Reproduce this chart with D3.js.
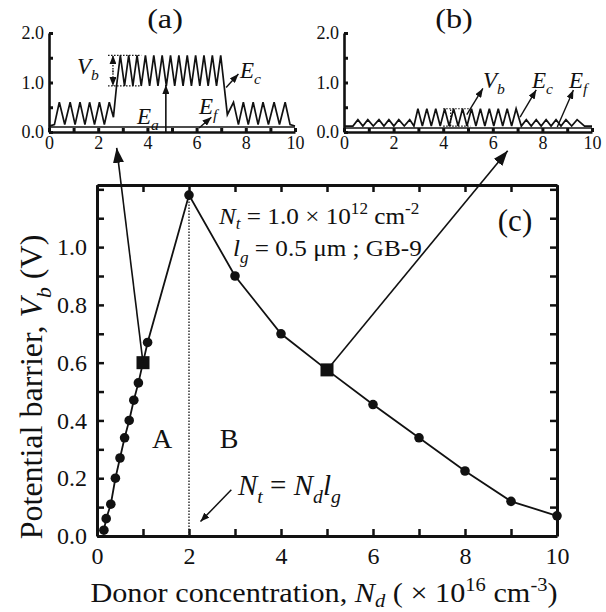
<!DOCTYPE html>
<html>
<head>
<meta charset="utf-8">
<script src="https://cdn.jsdelivr.net/npm/d3@7/dist/d3.min.js"></script>
<style>
  body { margin: 0; background: #fff; }
  svg text { font-family: "Liberation Serif", "Times New Roman", Times, serif; fill: #111; }
</style>
</head>
<body>
<svg id="chart" width="606" height="612"></svg>
<script>
// main panel (c): potential barrier vs donor concentration
var ndValues = [0.15, 0.2, 0.3, 0.4, 0.5, 0.6, 0.7, 0.8, 0.9, 1.0, 1.1, 2.0, 3.0, 4.0, 5.0, 6.0, 7.0, 8.0, 9.0, 10.0];
var vbValues = [0.02, 0.06, 0.11, 0.2, 0.27, 0.34, 0.4, 0.47, 0.53, 0.6, 0.67, 1.18, 0.9, 0.7, 0.575, 0.455, 0.34, 0.225, 0.12, 0.07];
var squareNd = [1.0, 5.0];
var squareVb = [0.6, 0.575];
var xTickValues = [0, 1, 2, 3, 4, 5, 6, 7, 8, 9, 10];
var yTickValues = [0, 0.1, 0.2, 0.3, 0.4, 0.5, 0.6, 0.7, 0.8, 0.9, 1.0, 1.1, 1.2];

// inset (a): band diagram, Nd = 1e16
var waveAX = [0, 0.22, 0.42, 0.64, 0.86, 1.06, 1.26, 1.46, 1.65, 1.85, 2.05, 2.25, 2.45, 2.62, 2.75,
  2.9, 3.07, 3.24, 3.41, 3.58, 3.75, 3.92, 4.09, 4.26, 4.43, 4.6, 4.77, 4.94, 5.11, 5.28, 5.45,
  5.62, 5.79, 5.96, 6.13, 6.3, 6.47, 6.64, 6.81, 6.98, 7.12, 7.25, 7.5, 7.7, 7.9, 8.1, 8.3, 8.5,
  8.7, 8.92, 9.15, 9.37, 9.6, 9.8, 10];
var waveAY = [0.12, 0.15, 0.6, 0.15, 0.6, 0.15, 0.6, 0.15, 0.6, 0.15, 0.6, 0.15, 0.6, 0.3, 0.95,
  1.55, 0.93, 1.55, 0.93, 1.55, 0.93, 1.55, 0.93, 1.55, 0.93, 1.55, 0.93, 1.55, 0.93, 1.55, 0.93,
  1.55, 0.93, 1.55, 0.93, 1.55, 0.93, 1.55, 0.93, 1.55, 0.93, 0.35, 0.6, 0.15, 0.6, 0.15, 0.6, 0.15,
  0.6, 0.15, 0.6, 0.15, 0.6, 0.15, 0.12];
var fermiA = 0.1;

// inset (b): band diagram, Nd = 5e16
var waveBX = [0, 0.36, 0.56, 0.76, 0.96, 1.18, 1.41, 1.61, 1.81, 2.01, 2.21, 2.43, 2.65, 2.82,
  2.98, 3.16, 3.34, 3.52, 3.7, 3.88, 4.06, 4.24, 4.42, 4.6, 4.78, 4.96, 5.14, 5.32, 5.5, 5.68,
  5.86, 6.04, 6.22, 6.4, 6.58, 6.76, 6.94, 7.15, 7.35, 7.55, 7.75, 7.95, 8.15, 8.35, 8.55, 8.75,
  8.95, 9.18, 9.4, 9.7, 10];
var waveBY = [0.12, 0.12, 0.25, 0.12, 0.25, 0.12, 0.25, 0.12, 0.25, 0.12, 0.25, 0.12, 0.25, 0.12,
  0.47, 0.12, 0.47, 0.12, 0.47, 0.12, 0.47, 0.12, 0.47, 0.12, 0.47, 0.12, 0.47, 0.12, 0.47, 0.12,
  0.47, 0.12, 0.47, 0.12, 0.47, 0.12, 0.47, 0.12, 0.25, 0.12, 0.25, 0.12, 0.25, 0.12, 0.25, 0.12,
  0.25, 0.12, 0.25, 0.12, 0.12];
var fermiB = 0.08;
var insetXTicks = [0, 1, 2, 3, 4, 5, 6, 7, 8, 9, 10];
var insetYTicks = [0, 0.5, 1.0, 1.5, 2.0];

var SERIF = "'Liberation Serif', 'Times New Roman', Times, serif";
var svg = d3.select("#chart").attr("font-family", SERIF);

var x = d3.scaleLinear().domain([0, 10]).range([97, 557]);
var y = d3.scaleLinear().domain([0, 1.215]).range([536, 185]);
var xa = d3.scaleLinear().domain([0, 10]).range([49, 295]);
var xb = d3.scaleLinear().domain([0, 10]).range([344, 592]);
var yi = d3.scaleLinear().domain([0, 2]).range([132, 33]);

var defs = svg.append("defs");
function addMarker(id, len, wid) {
  defs.append("marker")
    .attr("id", id)
    .attr("markerUnits", "userSpaceOnUse")
    .attr("viewBox", "0 0 " + len + " " + wid)
    .attr("refX", len).attr("refY", wid / 2)
    .attr("markerWidth", len).attr("markerHeight", wid)
    .attr("orient", "auto-start-reverse")
    .append("path")
    .attr("d", "M0,0 L" + len + "," + (wid / 2) + " L0," + wid + " Z")
    .attr("fill", "#111");
}
addMarker("bigHead", 15, 11);
addMarker("smallHead", 9, 7);

// rich text with italic / sub / sup pieces
function rich(sel, parts, fs, subShift) {
  var shift = 0;
  var sub = subShift || 0.28;
  sel.attr("font-family", SERIF);
  parts.forEach(function (p) {
    var ts = sel.append("tspan").text(p[0]);
    var k = p[1] || "";
    var target = 0;
    if (k.indexOf("sub") >= 0) { target = sub * fs; ts.attr("font-size", fs * 0.68); }
    if (k.indexOf("sup") >= 0) { target = -0.42 * fs; ts.attr("font-size", fs * 0.68); }
    if (k.charAt(0) === "i") ts.attr("font-style", "italic");
    ts.attr("dy", target - shift);
    shift = target;
  });
}

function styleAxis(g, fs) {
  g.attr("font-family", SERIF);
  g.select(".domain").attr("stroke", "#111").attr("stroke-width", 3);
  g.selectAll(".tick line").attr("stroke", "#111").attr("stroke-width", 2.5);
  g.selectAll(".tick text").attr("font-family", SERIF).attr("font-size", fs).attr("fill", "#222");
}

// ---------- main panel ----------
var gMain = svg.append("g");

gMain.append("g")
  .attr("transform", "translate(0," + y(0) + ")")
  .call(d3.axisBottom(x).tickValues(xTickValues).tickSizeInner(-7).tickSizeOuter(0).tickPadding(11)
    .tickFormat(function (d) { return d % 2 === 0 ? d : ""; }))
  .call(styleAxis, 24);
gMain.append("g")
  .attr("transform", "translate(0," + y(1.215) + ")")
  .call(d3.axisTop(x).tickValues(xTickValues).tickSizeInner(-7).tickSizeOuter(0).tickFormat(""))
  .call(styleAxis, 24);
gMain.append("g")
  .attr("transform", "translate(" + x(0) + ",0)")
  .call(d3.axisLeft(y).tickValues(yTickValues.filter(function (d) { return d < 1.21; }))
    .tickSizeInner(-7).tickSizeOuter(0).tickPadding(10)
    .tickFormat(function (d) { return Math.round(d * 10) % 2 === 0 && d < 1.1 ? d3.format(".1f")(d) : ""; }))
  .call(styleAxis, 24);
gMain.append("g")
  .attr("transform", "translate(" + x(10) + ",0)")
  .call(d3.axisRight(y).tickValues(yTickValues.filter(function (d) { return d < 1.21; }))
    .tickSizeInner(-7).tickSizeOuter(0).tickFormat(""))
  .call(styleAxis, 24);

// dotted boundary at Nt = Nd lg
gMain.append("line")
  .attr("x1", x(2)).attr("x2", x(2)).attr("y1", y(0)).attr("y2", y(1.18))
  .attr("stroke", "#222").attr("stroke-width", 1.4).attr("stroke-dasharray", "1.5,1.5");

var pts = ndValues.map(function (d, i) { return [d, vbValues[i]]; });
gMain.append("path")
  .datum(pts)
  .attr("d", d3.line().x(function (d) { return x(d[0]); }).y(function (d) { return y(d[1]); }))
  .attr("fill", "none").attr("stroke", "#111").attr("stroke-width", 1.8);

gMain.selectAll("circle.pt")
  .data(pts.filter(function (d) { return squareNd.indexOf(d[0]) < 0; }))
  .enter().append("circle")
  .attr("class", "pt")
  .attr("cx", function (d) { return x(d[0]); })
  .attr("cy", function (d) { return y(d[1]); })
  .attr("r", 4.8)
  .attr("fill", "#111");

gMain.selectAll("rect.sq")
  .data(squareNd)
  .enter().append("rect")
  .attr("class", "sq")
  .attr("x", function (d) { return x(d) - 6.5; })
  .attr("y", function (d, i) { return y(squareVb[i]) - 6.5; })
  .attr("width", 13).attr("height", 13)
  .attr("fill", "#111");

// arrows from squares up to the insets
svg.append("line")
  .attr("x1", x(squareNd[0])).attr("y1", y(squareVb[0]))
  .attr("x2", xa(2.75)).attr("y2", yi(-0.32))
  .attr("stroke", "#111").attr("stroke-width", 1.6).attr("marker-end", "url(#bigHead)");
svg.append("line")
  .attr("x1", x(squareNd[1])).attr("y1", y(squareVb[1]))
  .attr("x2", xb(6.6)).attr("y2", yi(-0.38))
  .attr("stroke", "#111").attr("stroke-width", 1.6).attr("marker-end", "url(#bigHead)");

// annotation arrow Nt = Nd lg
svg.append("line")
  .attr("x1", x(2.92)).attr("y1", y(0.16))
  .attr("x2", x(2.25)).attr("y2", y(0.05))
  .attr("stroke", "#111").attr("stroke-width", 1.5).attr("marker-end", "url(#smallHead)");

var t1 = svg.append("text").attr("transform", "translate(219,224) scale(1.05,1)").attr("font-size", 24);
rich(t1, [["N", "i"], ["t", "isub"], [" = 1.0 \u00d7 10"], ["12", "sup"], [" cm"], ["-2", "sup"]], 24, 0.22);
var t2 = svg.append("text").attr("transform", "translate(233,256) scale(1.05,1)").attr("font-size", 24);
rich(t2, [["l", "i"], ["g", "isub"], [" = 0.5 \u03bcm ; GB-9"]], 24);
svg.append("text").attr("x", 515).attr("y", 231).attr("text-anchor", "middle").attr("font-size", 31).text("(c)");
svg.append("text").attr("x", 162).attr("y", 448).attr("text-anchor", "middle").attr("font-size", 28).text("A");
svg.append("text").attr("x", 229).attr("y", 448).attr("text-anchor", "middle").attr("font-size", 28).text("B");
var t3 = svg.append("text").attr("x", 238).attr("y", 495).attr("font-size", 29);
rich(t3, [["N", "i"], ["t", "isub"], [" = "], ["N", "i"], ["d", "isub"], ["l", "i"], ["g", "isub"]], 29);

// axis titles
var xt = svg.append("text").attr("transform", "translate(324,602) scale(1.12,1)").attr("text-anchor", "middle").attr("font-size", 27);
rich(xt, [["Donor concentration, "], ["N", "i"], ["d", "isub"], [" ( \u00d7 10"], ["16", "sup"], [" cm"], ["-3", "sup"], [")"]], 27, 0.2);
var yt = svg.append("text").attr("transform", "translate(42,387) rotate(-90)").attr("text-anchor", "middle").attr("font-size", 32);
rich(yt, [["Potential barrier, "], ["V", "i"], ["b", "isub"], [" (V)"]], 32);

// ---------- insets ----------
function styleInset(g) {
  g.attr("font-family", SERIF);
  g.select(".domain").attr("stroke", "#111").attr("stroke-width", 2.6);
  g.selectAll(".tick line").attr("stroke", "#111").attr("stroke-width", 3);
  g.selectAll(".tick text").attr("font-family", SERIF).attr("font-size", 18).attr("fill", "#333");
}
function drawInset(xs, wx, wy, fermi, title, titleX) {
  var g = svg.append("g");
  g.append("g")
    .attr("transform", "translate(0," + yi(0) + ")")
    .call(d3.axisBottom(xs).tickValues(insetXTicks).tickSizeInner(-4).tickSizeOuter(0).tickPadding(4)
      .tickFormat(function (d) { return d % 2 === 0 ? d : ""; }))
    .call(styleInset);
  g.append("g")
    .attr("transform", "translate(" + xs(0) + ",0)")
    .call(d3.axisLeft(yi).tickValues(insetYTicks).tickSizeInner(-4).tickSizeOuter(0).tickPadding(5)
      .tickFormat(function (d) { return d % 1 === 0 ? d3.format(".1f")(d) : ""; }))
    .call(styleInset);
  g.append("line")
    .attr("x1", xs(0)).attr("x2", xs(10)).attr("y1", yi(fermi)).attr("y2", yi(fermi))
    .attr("stroke", "#111").attr("stroke-width", 1.6);
  g.append("path")
    .datum(wx.map(function (d, i) { return [d, wy[i]]; }))
    .attr("d", d3.line().x(function (d) { return xs(d[0]); }).y(function (d) { return yi(d[1]); }))
    .attr("fill", "none").attr("stroke", "#111").attr("stroke-width", 1.7);
  g.append("text").attr("transform", "translate(" + titleX + ",28) scale(1.15,1)").attr("text-anchor", "middle")
    .attr("font-family", SERIF).attr("font-size", 28).text(title);
  return g;
}

var gA = drawInset(xa, waveAX, waveAY, fermiA, "(a)", 165);
var gB = drawInset(xb, waveBX, waveBY, fermiB, "(b)", 454);

// inset (a) annotations
[0.93, 1.55].forEach(function (v) {
  gA.append("line").attr("x1", xa(2.4)).attr("x2", xa(3.75)).attr("y1", yi(v)).attr("y2", yi(v))
    .attr("stroke", "#111").attr("stroke-width", 1.3).attr("stroke-dasharray", "1.5,1.5");
});
gA.append("line").attr("x1", xa(2.6)).attr("x2", xa(2.6)).attr("y1", yi(1.2)).attr("y2", yi(1.55))
  .attr("stroke", "#111").attr("stroke-width", 1.3).attr("stroke-dasharray", "1.5,1.5").attr("marker-end", "url(#smallHead)");
gA.append("line").attr("x1", xa(2.6)).attr("x2", xa(2.6)).attr("y1", yi(1.25)).attr("y2", yi(0.93))
  .attr("stroke", "#111").attr("stroke-width", 1.3).attr("stroke-dasharray", "1.5,1.5").attr("marker-end", "url(#smallHead)");
gA.append("line").attr("x1", xa(4.75)).attr("x2", xa(4.75)).attr("y1", yi(0)).attr("y2", yi(0.95))
  .attr("stroke", "#111").attr("stroke-width", 1.6).attr("marker-end", "url(#smallHead)");
gA.append("line").attr("x1", xa(7.2)).attr("y1", yi(0.9)).attr("x2", xa(7.7)).attr("y2", yi(1.17))
  .attr("stroke", "#111").attr("stroke-width", 1.4).attr("marker-end", "url(#smallHead)");
gA.append("line").attr("x1", xa(6.1)).attr("y1", yi(0.08)).attr("x2", xa(6.6)).attr("y2", yi(0.3))
  .attr("stroke", "#111").attr("stroke-width", 1.4).attr("marker-end", "url(#smallHead)");
var la1 = gA.append("text").attr("x", 77).attr("y", 74).attr("font-size", 23);
rich(la1, [["V", "i"], ["b", "isub"]], 23);
var la2 = gA.append("text").attr("x", 240).attr("y", 78).attr("font-size", 23);
rich(la2, [["E", "i"], ["c", "isub"]], 23);
var la3 = gA.append("text").attr("x", 137).attr("y", 124).attr("font-size", 23);
rich(la3, [["E", "i"], ["a", "isub"]], 23);
var la4 = gA.append("text").attr("x", 199).attr("y", 114).attr("font-size", 23);
rich(la4, [["E", "i"], ["f", "isub"]], 23);

// inset (b) annotations
[0.12, 0.47].forEach(function (v) {
  gB.append("line").attr("x1", xb(4.0)).attr("x2", xb(5.1)).attr("y1", yi(v)).attr("y2", yi(v))
    .attr("stroke", "#111").attr("stroke-width", 1.2).attr("stroke-dasharray", "1.5,1.5");
});
gB.append("line").attr("x1", xb(4.3)).attr("x2", xb(4.3)).attr("y1", yi(0.12)).attr("y2", yi(0.47))
  .attr("stroke", "#111").attr("stroke-width", 1.2).attr("stroke-dasharray", "1.5,1.5");
gB.append("line").attr("x1", xb(4.95)).attr("y1", yi(0.35)).attr("x2", xb(5.6)).attr("y2", yi(0.88))
  .attr("stroke", "#111").attr("stroke-width", 1.4).attr("marker-end", "url(#smallHead)");
gB.append("line").attr("x1", xb(7.1)).attr("y1", yi(0.3)).attr("x2", xb(7.75)).attr("y2", yi(0.85))
  .attr("stroke", "#111").attr("stroke-width", 1.4).attr("marker-end", "url(#smallHead)");
gB.append("line").attr("x1", xb(8.6)).attr("y1", yi(0.1)).attr("x2", xb(9.25)).attr("y2", yi(0.85))
  .attr("stroke", "#111").attr("stroke-width", 1.4).attr("marker-end", "url(#smallHead)");
var lb1 = gB.append("text").attr("x", 483).attr("y", 88).attr("font-size", 23);
rich(lb1, [["V", "i"], ["b", "isub"]], 23);
var lb2 = gB.append("text").attr("x", 532).attr("y", 88).attr("font-size", 23);
rich(lb2, [["E", "i"], ["c", "isub"]], 23);
var lb3 = gB.append("text").attr("x", 569).attr("y", 88).attr("font-size", 23);
rich(lb3, [["E", "i"], ["f", "isub"]], 23);
</script>
</body>
</html>
